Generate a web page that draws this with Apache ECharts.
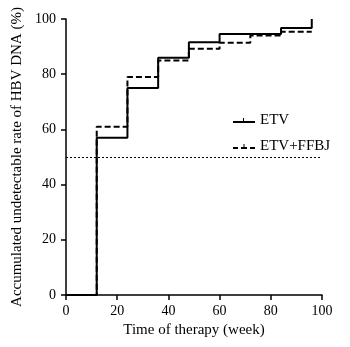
<!DOCTYPE html>
<html>
<head>
<meta charset="utf-8">
<script src="https://cdn.jsdelivr.net/npm/echarts@6/dist/echarts.min.js"></script>
<style>html,body{margin:0;padding:0;background:#fff}#c{width:350px;height:347px}</style>
</head>
<body>
<div id="c"></div>
<script>
var weeks = [0, 12, 24, 36, 48, 60, 72, 84, 96];
var etv = [0, 57, 75, 86, 91.6, 94.6, 94.6, 96.7, 100];
var etvFfbj = [0, 61, 79, 85, 89.2, 91.4, 94, 95.4, 95.4];
var xTicks = [0, 20, 40, 60, 80, 100];
var yTicks = [0, 20, 40, 60, 80, 100];
var refLine = 50;

function pairs(xs, ys) { return xs.map(function (x, i) { return [x, ys[i]]; }); }

var font = 'Liberation Serif';
var solidIcon = 'path://M0,7h22v2h-22z M10,4h1v3h-1z';
var dashIcon = 'path://M0,7h5v2h-5z M8,7h6v2h-6z M10.5,4h1v3h-1z M17,7h5v2h-5z';
var chart = echarts.init(document.getElementById('c'));
chart.setOption({
  animation: false,
  backgroundColor: '#fff',
  textStyle: { fontFamily: font, color: '#000' },
  grid: { left: 66, right: 28, top: 19, bottom: 52 },
  xAxis: {
    type: 'value', min: 0, max: 100, interval: 20,
    name: 'Time of therapy (week)', nameLocation: 'middle', nameGap: 27,
    nameTextStyle: { fontFamily: font, fontSize: 15, color: '#000' },
    axisLine: { lineStyle: { color: '#000', width: 1.5 } },
    axisTick: { show: true, length: 5, lineStyle: { color: '#000', width: 1.5 } },
    axisLabel: { fontFamily: font, fontSize: 14, color: '#000', margin: 9 },
    splitLine: { show: false }
  },
  yAxis: {
    type: 'value', min: 0, max: 100, interval: 20,
    name: 'Accumulated undetectable rate of HBV DNA (%)', nameLocation: 'middle', nameGap: 40,
    nameTextStyle: { fontFamily: font, fontSize: 15, color: '#000' },
    axisLine: { show: true, lineStyle: { color: '#000', width: 1.5 } },
    axisTick: { show: true, length: 5, lineStyle: { color: '#000', width: 1.5 } },
    axisLabel: { fontFamily: font, fontSize: 14, color: '#000', margin: 10 },
    splitLine: { show: false }
  },
  legend: {
    orient: 'vertical', left: 228, top: 108, itemWidth: 22, itemHeight: 14, itemGap: 11,
    itemStyle: { color: '#000', borderWidth: 0 },
    textStyle: { fontFamily: font, fontSize: 15, color: '#000' },
    data: [{ name: 'ETV', icon: solidIcon }, { name: 'ETV+FFBJ', icon: dashIcon }]
  },
  series: [
    {
      name: 'ETV', type: 'line', step: 'end', symbol: 'none',
      data: pairs(weeks, etv),
      lineStyle: { color: '#000', width: 2 },
      itemStyle: { color: '#000' },
      markLine: {
        silent: true, symbol: 'none', label: { show: false },
        lineStyle: { color: '#000', type: [2, 2], width: 1 },
        data: [{ yAxis: refLine }]
      }
    },
    {
      name: 'ETV+FFBJ', type: 'line', step: 'end', symbol: 'none',
      data: pairs(weeks, etvFfbj),
      lineStyle: { color: '#000', width: 2, type: [6, 3] },
      itemStyle: { color: '#000' }
    }
  ]
});
</script>
</body>
</html>
